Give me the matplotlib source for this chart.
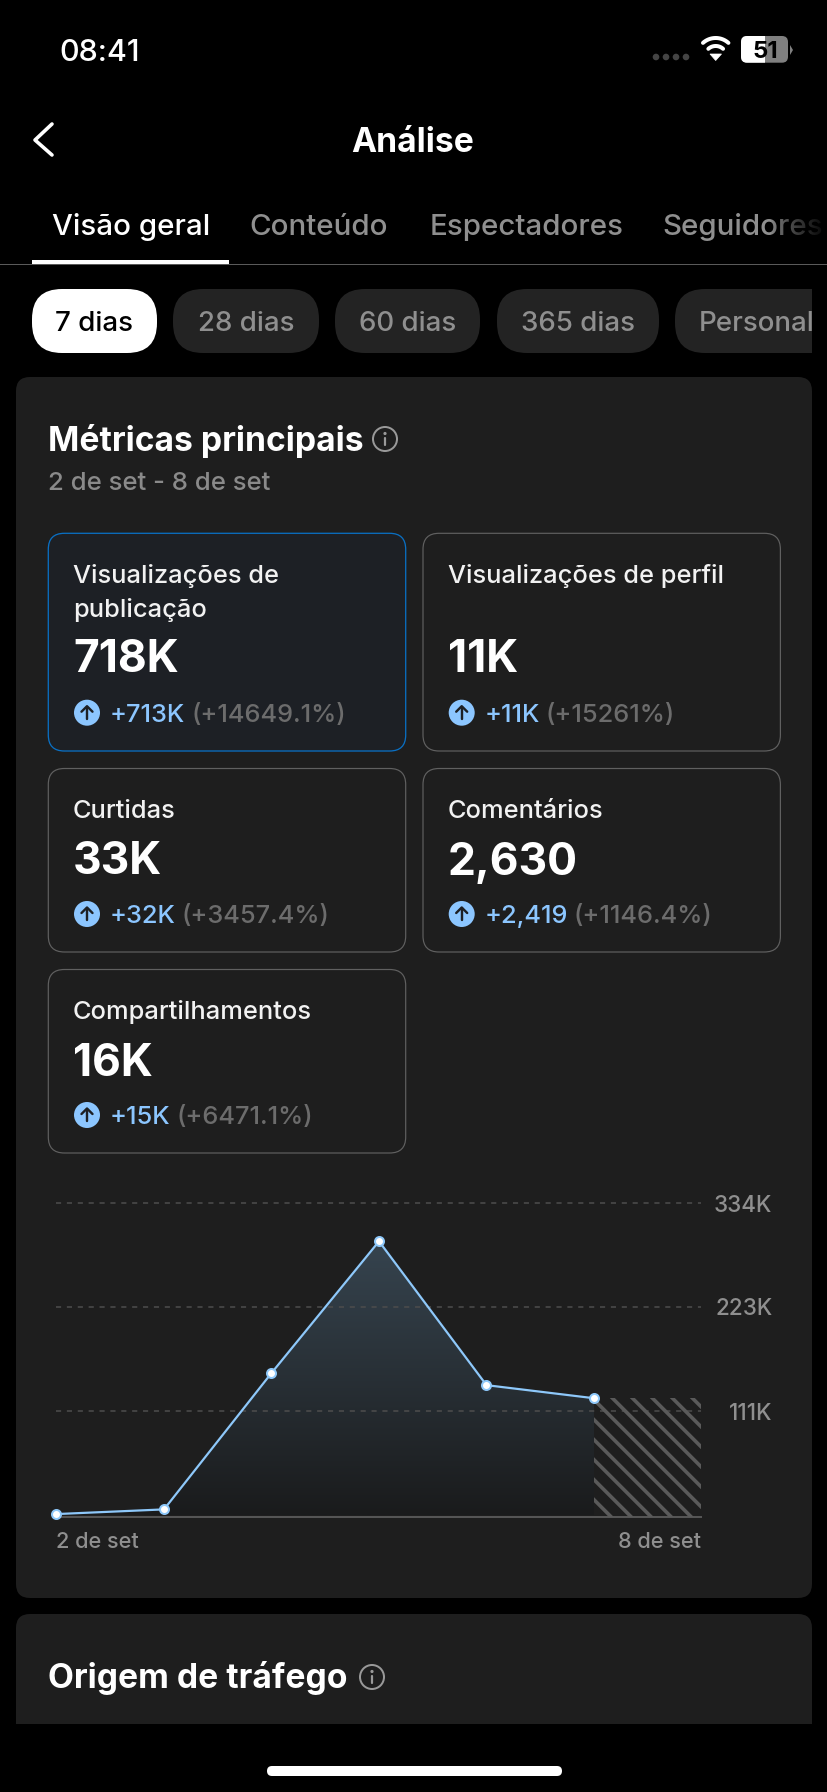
import numpy as np
import matplotlib
matplotlib.use("Agg")
import matplotlib.pyplot as plt
from matplotlib.colors import LinearSegmentedColormap
from matplotlib.lines import Line2D
from matplotlib.patches import Circle, FancyBboxPatch, Polygon, Rectangle

plt.rcParams["font.family"] = ["Inter", "DejaVu Sans"]

W, H = 828, 1792

# chart data, thousands
days = [0, 1, 2, 3, 4, 5]
views = [1, 6, 152, 293, 139, 125]
y_ticks = [111, 223, 334]
y_labels = ["111K", "223K", "334K"]
x_ticks = [0, 6]
x_labels = ["2 de set", "8 de set"]

# cards
card_labels = [["Visualizações de", "publicação"], ["Visualizações de perfil"], ["Curtidas"],
               ["Comentários"], ["Compartilhamentos"]]
card_values = ["718K", "11K", "33K", "2,630", "16K"]
card_deltas = ["+713K", "+11K", "+32K", "+2,419", "+15K"]
card_pcts = ["(+14649.1%)", "(+15261%)", "(+3457.4%)", "(+1146.4%)", "(+6471.1%)"]

tabs = ["Visão geral", "Conteúdo", "Espectadores", "Seguidores"]
tab_x = [52, 249, 430, 662]
chips = ["7 dias", "28 dias", "60 dias", "365 dias", "Personal"]
chip_left = [32, 173, 335, 497, 675]
chip_right = [157, 319, 480, 659, 860]

BLUE = "#8cc6ff"
PANEL = "#1e1e1e"

fig = plt.figure(figsize=(W / 100, H / 100), dpi=100, facecolor="black")
ui = fig.add_axes([0, 0, 1, 1])
ui.set_xlim(0, W)
ui.set_ylim(H, 0)
ui.set_autoscale_on(False)
ui.axis("off")


def px(v):
    # pixel sizes to points
    return v * 0.72


def text(x, y, s, size, color="white", weight="medium", ha="left", **kw):
    return ui.text(x, y, s, fontsize=px(size), color=color, fontweight=weight, ha=ha, va="baseline", **kw)


def box(x0, y0, x1, y1, r, fc, ec="none", lw=0, z=1):
    p = FancyBboxPatch((x0, y0), x1 - x0, y1 - y0, boxstyle=f"round,pad=0,rounding_size={r}",
                       fc=fc, ec=ec, lw=px(lw), zorder=z)
    ui.add_patch(p)
    return p


def line(xs, ys, color, lw, z=5):
    ui.plot(xs, ys, color=color, lw=px(lw), zorder=z, solid_capstyle="round", solid_joinstyle="round")


def info_icon(cx, cy, r=12):
    ui.add_patch(Circle((cx, cy), r, fc="none", ec="#999999", lw=px(2), zorder=5))
    line([cx, cx], [cy - 1, cy + 6], "#999999", 2.2)
    ui.add_patch(Circle((cx, cy - 5.5), 1.6, fc="#999999", ec="none", zorder=5))


# status bar
text(59, 61, "08:41", 30.5)
for x in [656, 666, 676, 686]:
    ui.add_patch(Circle((x, 57), 3.3, fc="#444444", ec="none", zorder=3))
t = np.linspace(np.radians(48), np.radians(132), 30)
for r in [19, 11]:
    line(715.7 + r * np.cos(t), 60 - r * np.sin(t) - 3, "white", 4)
ui.add_patch(Polygon([[710, 54], [721.5, 54], [715.7, 60.5]], fc="white", ec="white", lw=0.5, zorder=5))
box(741, 36, 788, 62.7, 6, "#808080", z=3)
white_part = box(741, 36, 788, 62.7, 6, "white", z=4)
white_part.set_clip_path(Rectangle((741, 30), 24, 40, transform=ui.transData))
ui.add_patch(Polygon([[790, 45], [793, 50], [790, 55]], fc="#808080", ec="none", zorder=3))
text(765, 58, "51", 24, color="black", weight="bold", ha="center", zorder=6)

# header
line([52, 35, 52], [124, 140, 155], "white", 3.6)
text(413, 151.7, "Análise", 33.6, weight="bold", ha="center")

# tabs
for i, (s, x) in enumerate(zip(tabs, tab_x)):
    text(x, 235, s, 29.5, color="white" if i == 0 else "#8f8f8f")
ui.add_patch(Rectangle((0, 264), W, 1.2, fc="#5a5a5a", ec="none", zorder=2))
ui.add_patch(Rectangle((32, 260), 197, 4.5, fc="white", ec="none", zorder=3))
fade = np.zeros((1, 64, 4))
fade[0, :, 3] = np.linspace(0, 1, 64) ** 0.7
ui.imshow(fade, extent=(770, 828, 264, 184), aspect="auto", zorder=6)
ui.set_xlim(0, W)
ui.set_ylim(H, 0)

# period chips
chip_clip = Rectangle((0, 280), 812, 80, transform=ui.transData)
for i, (s, x0, x1) in enumerate(zip(chips, chip_left, chip_right)):
    p = box(x0, 289, x1, 353, 30, "white" if i == 0 else "#232323", z=2)
    p.set_clip_path(chip_clip)
    if i == 4:
        tx = text(699, 330.7, s, 27.7, color="#8f8f8f", zorder=3)
        tx.set_clip_path(chip_clip)
    else:
        text((x0 + x1) / 2, 330.7, s, 27.7, color="black" if i == 0 else "#8f8f8f", ha="center", zorder=3)

# panels
box(16, 377, 812, 1598, 14, PANEL)
p2 = box(16, 1614, 812, 1790, 14, PANEL)
p2.set_clip_path(Rectangle((0, 1600), W, 124, transform=ui.transData))

text(48, 450.7, "Métricas principais", 33.6, weight="bold", zorder=3)
info_icon(385, 439)
text(48, 490, "2 de set - 8 de set", 25.7, color="#8a8a8a", zorder=3)
text(48, 1688, "Origem de tráfego", 33.6, weight="bold", zorder=3)
info_icon(372, 1677)

# home bar
box(267, 1766, 562, 1776, 5, "white", z=3)

# metric cards
card_left = [48.3, 423, 48.3, 423, 48.3]
card_top = [533.3, 533.3, 768.5, 768.5, 969.5]
card_bottom = [751, 751, 952, 952, 1153]
fig.canvas.draw()
rend = fig.canvas.get_renderer()
for i in range(5):
    x0, top = card_left[i], card_top[i]
    if i == 0:
        box(x0, top, x0 + 357.4, card_bottom[i], 16, "#1d2025", ec="#0a6fc2", lw=1.3, z=2)
    else:
        box(x0, top, x0 + 357.4, card_bottom[i], 16, PANEL, ec="#606060", lw=1.2, z=2)
    tx = x0 + 24.7
    for j, s in enumerate(card_labels[i]):
        text(tx, top + 49.7 + j * 33.7, s, 25.4, color="#f2f2f2", zorder=3)
    if i < 2:
        val_y, delta_y = top + 138.9, top + 188.4
    else:
        val_y, delta_y = top + 106, top + 154.5
    text(tx, val_y, card_values[i], 44.4, weight="bold", zorder=3)
    cx = x0 + 38.7
    ui.add_patch(Circle((cx, delta_y - 9), 13, fc=BLUE, ec="none", zorder=3))
    line([cx, cx], [delta_y - 2.5, delta_y - 15], "#1d2025", 2.4)
    line([cx - 5.5, cx, cx + 5.5], [delta_y - 10, delta_y - 15.5, delta_y - 10], "#1d2025", 2.4)
    d = text(x0 + 61.5, delta_y, card_deltas[i], 25.4, color=BLUE, zorder=3)
    right = ui.transData.inverted().transform(d.get_window_extent(rend).get_points())[1, 0]
    text(right + 6, delta_y, card_pcts[i], 25.4, color="#6c6c6c", zorder=3)

# chart
CX0, CX1, CY0, CY1 = 56.5, 701.5, 1203, 1515
ax = fig.add_axes([CX0 / W, 1 - CY1 / H, (CX1 - CX0) / W, (CY1 - CY0) / H], zorder=5)
ax.patch.set_alpha(0)
ax.set_xlim(0, 6)
ax.set_ylim(0, 334)
ax.set_autoscale_on(False)
for s in ["top", "left", "right"]:
    ax.spines[s].set_visible(False)
ax.spines["bottom"].set_color("#555555")
ax.spines["bottom"].set_linewidth(px(2))
ax.spines["bottom"].set_position(("outward", px(1.7)))

ax.set_yticks(y_ticks, y_labels)
ax.yaxis.tick_right()
ax.tick_params(axis="y", length=0, pad=px(71), labelsize=px(22.5), labelcolor="#8f8f8f")
for lab in ax.get_yticklabels():
    lab.set_ha("right")
    lab.set_fontweight("medium")
ax.set_xticks(x_ticks, x_labels)
ax.tick_params(axis="x", length=0, pad=px(15), labelsize=px(21.7), labelcolor="#8f8f8f")
ax.get_xticklabels()[0].set_ha("left")
ax.get_xticklabels()[1].set_ha("right")
for lab in ax.get_xticklabels():
    lab.set_fontweight("medium")

ax.grid(axis="y", color="#4c4c4c", lw=px(1.6), linestyle=(0, (3.2, 3.6)), zorder=2)
ax.grid(axis="x", visible=False)
ax.set_axisbelow(False)
for gl in ax.get_ygridlines():
    gl.set_clip_on(False)

# gradient under the line
cmap = LinearSegmentedColormap.from_list("fill", ["#1a1b1c", "#36444f"])
grad = ax.imshow(np.linspace(1, 0, 256).reshape(-1, 1), extent=(days[0], days[-1], 0, max(views)),
                 cmap=cmap, aspect="auto", zorder=1)
poly = Polygon(list(zip(days, views)) + [(days[-1], 0), (days[0], 0)], transform=ax.transData,
               fc="none", ec="none")
ax.add_patch(poly)
grad.set_clip_path(poly)

# striped block for the unfinished day
hatch_clip = Rectangle((days[-1], -2), x_ticks[-1] - days[-1], views[-1] + 2, transform=ax.transData,
                       fc="none", ec="none")
ax.add_patch(hatch_clip)
for c in np.arange(-785.7 - 7 * 20, -680, 20):
    ln = Line2D([CX0, CX1 + 300], [CX0 - c, CX1 + 300 - c], color="#5a5a5a", lw=px(3.6),
                transform=ui.transData, zorder=3)
    ax.add_line(ln)
    ln.set_clip_path(hatch_clip)

ax.plot(days, views, color="#8ec8fa", lw=px(2.2), marker="o", ms=px(9), mfc="white", mec="#8ec8fa",
        mew=px(2), zorder=6, clip_on=False)

fig.savefig("out.png", dpi=100, facecolor="black")
